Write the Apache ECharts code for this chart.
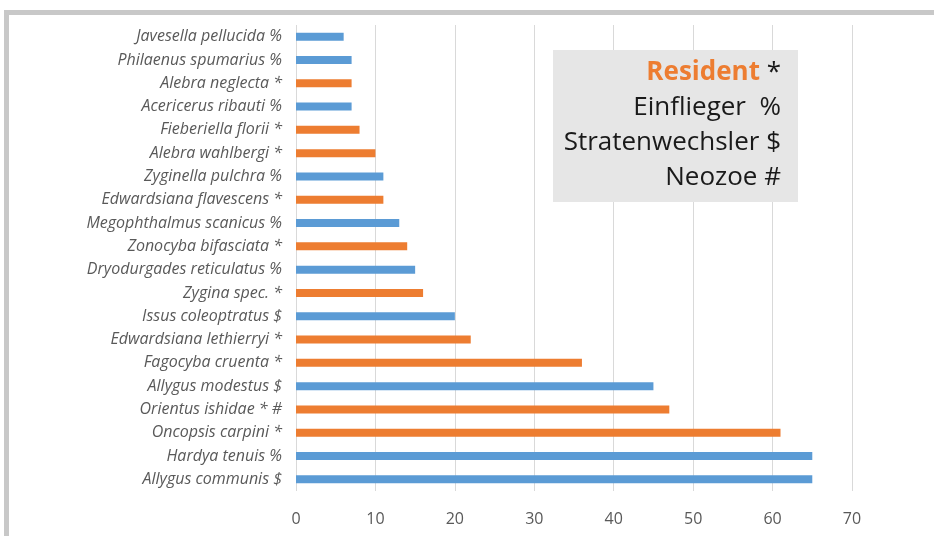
<!DOCTYPE html>
<html>
<head>
<meta charset="utf-8">
<script src="https://cdn.jsdelivr.net/npm/echarts@6/dist/echarts.min.js"></script>
<style>
  html, body { margin: 0; padding: 0; background: #fff; }
  #chart { width: 934px; height: 536px; }
</style>
</head>
<body>
<div id="chart"></div>
<script>
// species, top to bottom as shown
const species = [
  'Javesella pellucida %', 'Philaenus spumarius %', 'Alebra neglecta *',
  'Acericerus ribauti %', 'Fieberiella florii *', 'Alebra wahlbergi *',
  'Zyginella pulchra %', 'Edwardsiana flavescens *', 'Megophthalmus scanicus %',
  'Zonocyba bifasciata *', 'Dryodurgades reticulatus %', 'Zygina spec. *',
  'Issus coleoptratus $', 'Edwardsiana lethierryi *', 'Fagocyba cruenta *',
  'Allygus modestus $', 'Orientus ishidae * #', 'Oncopsis carpini *',
  'Hardya tenuis %', 'Allygus communis $'
];
const counts = [6, 7, 7, 7, 8, 10, 11, 11, 13, 14, 15, 16, 20, 22, 36, 45, 47, 61, 65, 65];
const xTicks = [0, 10, 20, 30, 40, 50, 60, 70];
const legendLines = ['Resident', 'Einflieger  %', 'Stratenwechsler $', 'Neozoe #'];

const ORANGE = '#ED7D31', BLUE = '#5B9BD5';
const chart = echarts.init(document.getElementById('chart'));

const option = {
  animation: false,
  grid: { left: 296, right: 82, top: 25, bottom: 45 },
  xAxis: {
    type: 'value',
    min: xTicks[0],
    max: xTicks[xTicks.length - 1],
    interval: 10,
    axisLine: { show: false },
    axisTick: { show: false },
    splitLine: { show: true, lineStyle: { color: '#D9D9D9', width: 1 } },
    axisLabel: { color: '#595959', fontSize: 16, fontFamily: 'Open Sans', margin: 20 }
  },
  yAxis: {
    type: 'category',
    data: species,
    inverse: true,
    axisLine: { show: false },
    axisTick: { show: false },
    axisLabel: {
      color: '#595959', fontSize: 16, fontStyle: 'italic',
      fontFamily: 'Open Sans', margin: 14
    }
  },
  series: [{
    type: 'bar',
    barWidth: 8,
    data: counts.map((v, i) => ({
      value: v,
      itemStyle: { color: species[i].includes('*') ? ORANGE : BLUE }
    }))
  }],
  graphic: [
    { type: 'rect', z: 100, shape: { x: 4, y: 10, width: 930, height: 5 }, style: { fill: '#C8C8C8' } },
    { type: 'rect', z: 100, shape: { x: 4, y: 10, width: 5, height: 526 }, style: { fill: '#C8C8C8' } },
    { type: 'rect', z: 100, shape: { x: 553, y: 50, width: 245, height: 152 }, style: { fill: '#E6E6E6' } },
    {
      type: 'text', z: 101, x: 781, y: 73,
      style: {
        text: '{r|' + legendLines[0] + '} *',
        align: 'right', verticalAlign: 'middle',
        fontSize: 26, fontFamily: 'Open Sans', fill: '#1a1a1a',
        rich: { r: { fontSize: 26, fontFamily: 'Open Sans', fontWeight: 'bold', fill: ORANGE } }
      }
    },
    ...legendLines.slice(1).map((t, i) => ({
      type: 'text', z: 101, x: 781, y: 108 + i * 35,
      style: {
        text: t, align: 'right', verticalAlign: 'middle',
        fontSize: 26, fontFamily: 'Open Sans', fill: '#1a1a1a'
      }
    }))
  ]
};
chart.setOption(option);
</script>
</body>
</html>
